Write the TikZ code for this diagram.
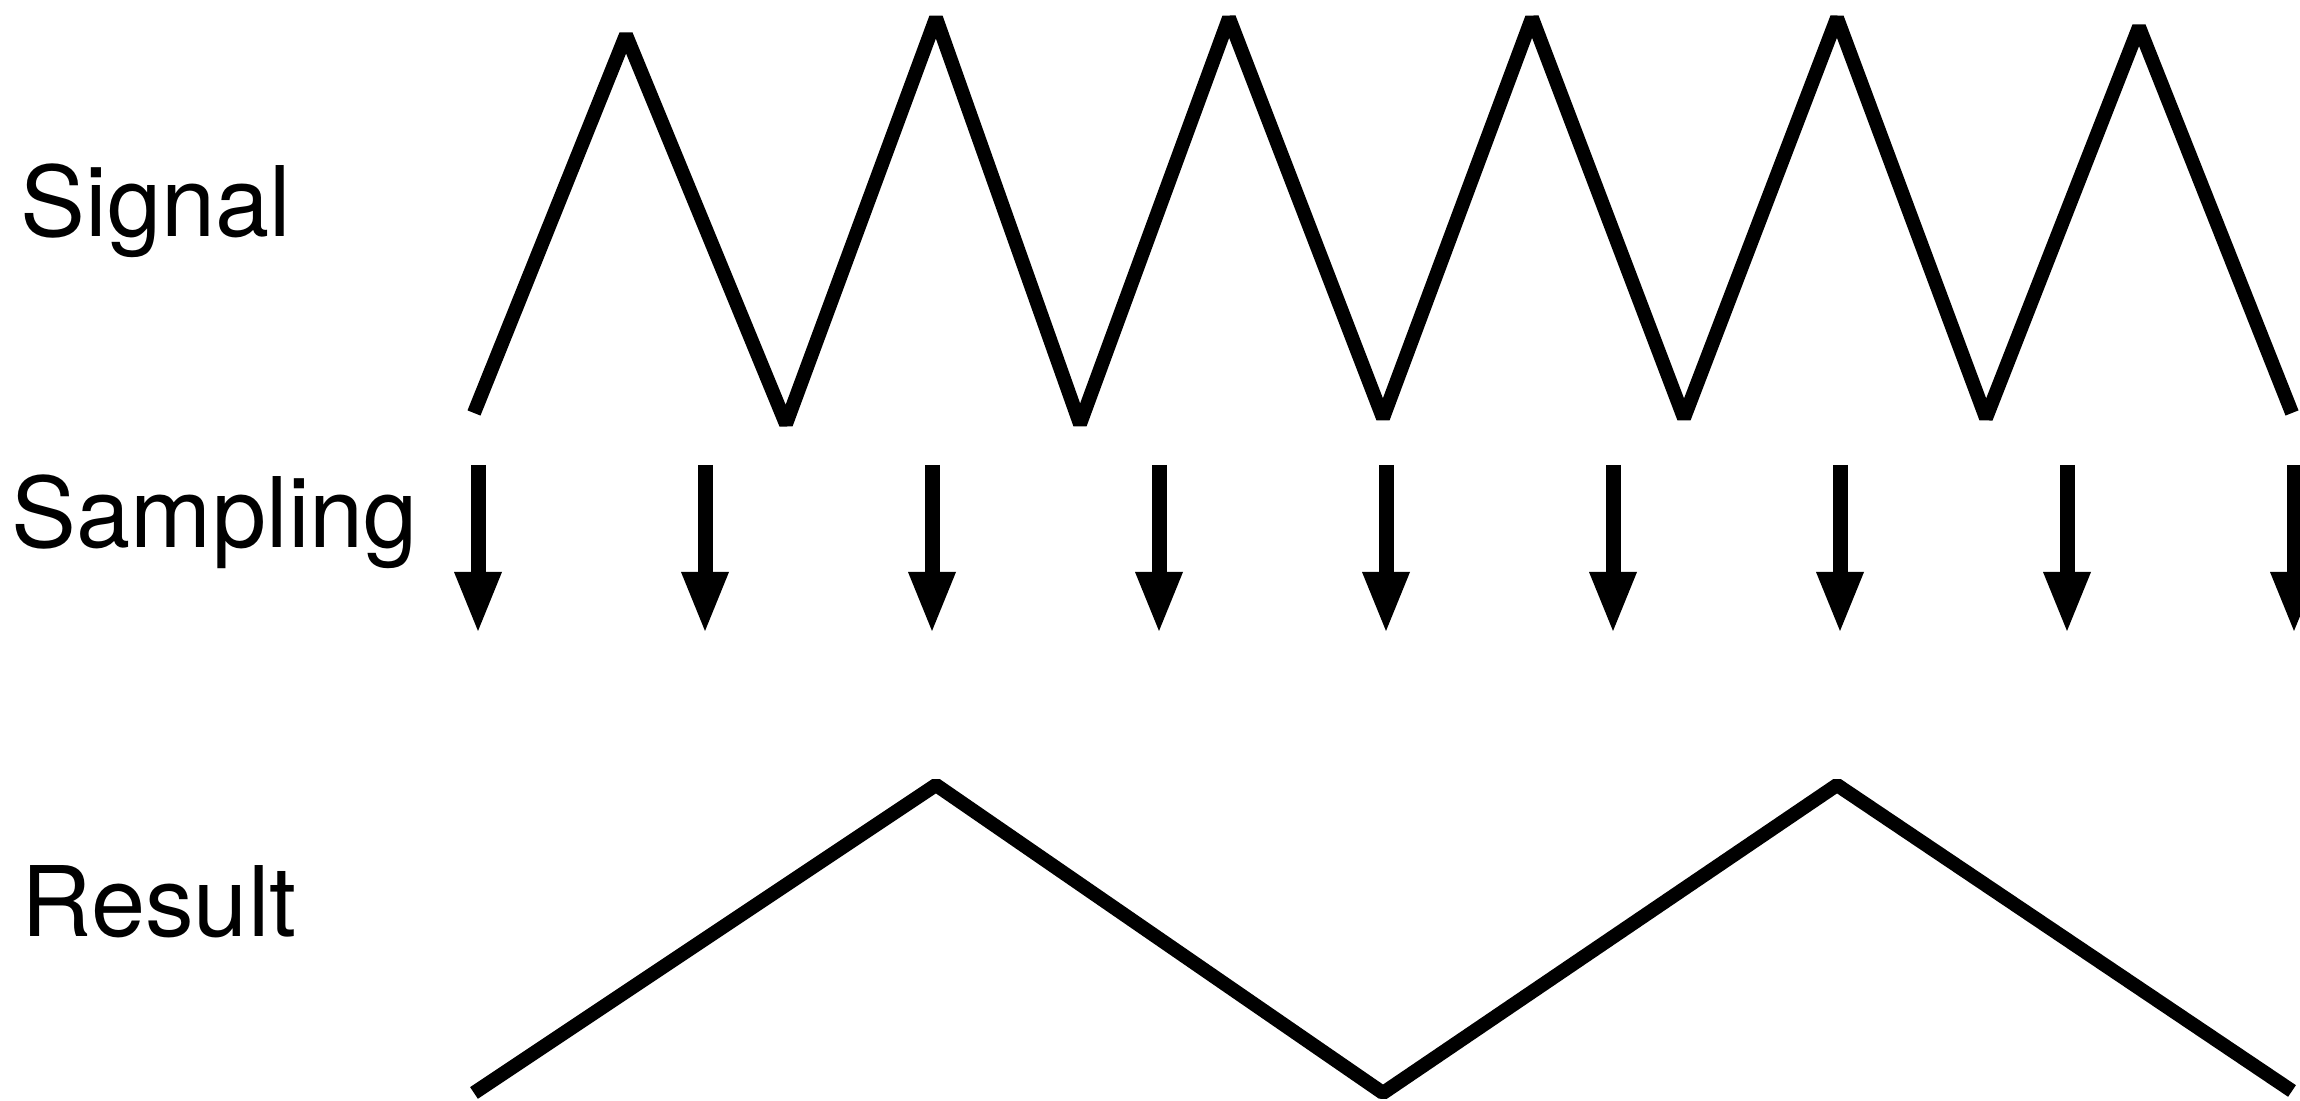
\documentclass[tikz,border=0pt]{standalone}
\usepackage{fontspec}
\setmainfont{TeX Gyre Heros}
\usetikzlibrary{arrows.meta, positioning}

\tikzset{
  wave/.style={line width=1.4mm, line join=bevel},
  sample/.style={line width=1.5mm, -{Triangle[width=4.8mm 0, length=5.9mm 0, line width=0pt]}},
  lbl/.style={anchor=base west, inner sep=0pt, font=\fontsize{27.7}{33}\selectfont}
}

\begin{document}
\begin{tikzpicture}
    \useasboundingbox (0,0) rectangle (23,11.01);

    \node[lbl] (signal) at (0.20,8.64) {Signal};
    \node[lbl] (sampling) at (0.11,5.53) {Sampling};
    \node[lbl] (result) at (0.21,1.64) {Result};

    % input signal
    \draw[wave] (4.74,6.88) -- (6.26,10.66) -- (7.86,6.77) -- (9.36,10.83)
        -- (10.80,6.77) -- (12.29,10.83) -- (13.83,6.83) -- (15.32,10.83)
        -- (16.84,6.83) -- (18.37,10.83) -- (19.86,6.83) -- (21.39,10.74)
        -- (22.92,6.88);

    % sampling points
    \foreach \i in {0,...,8} {
        \coordinate (top\i) at ({4.78+2.27*\i},6.36);
        \coordinate (tip\i) at ({4.78+2.27*\i},4.70);
        \draw[sample] (top\i) -- (tip\i);
    }

    % what comes out
    \draw[wave] (4.74,0.08) -- (9.36,3.16) -- (13.83,0.08) -- (18.37,3.16)
        -- (22.92,0.10);
  \end{tikzpicture}
\end{document}
